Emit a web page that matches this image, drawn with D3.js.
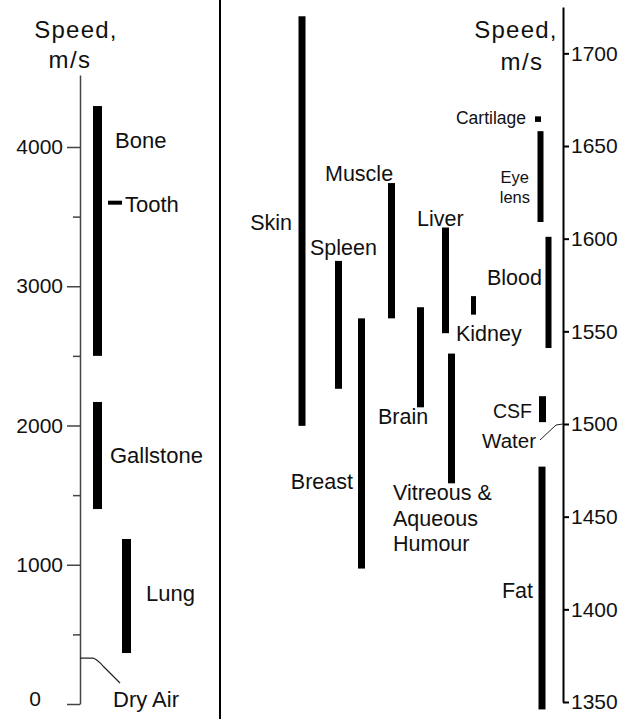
<!DOCTYPE html>
<html>
<head>
<meta charset="utf-8">
<script src="https://cdn.jsdelivr.net/npm/d3@7"></script>
<style>
  html, body { margin: 0; padding: 0; background: #fff; }
  svg { display: block; font-family: "Liberation Sans", Arial, sans-serif; }
  text { fill: #111; }
</style>
</head>
<body>
<svg id="chart" width="626" height="719"></svg>
<script>
// Speed of sound in hard tissues (m/s), left panel
const hardTissues = ["Bone", "Tooth", "Gallstone", "Lung"];
const hardLow  = [2500, 3600, 1400, 366];
const hardHigh = [4294, 3600, 2169, 1185];
const dryAirSpeed = 330;

// Speed of sound in soft tissues (m/s), right panel
const softTissues = ["Skin", "Spleen", "Breast", "Muscle", "Brain", "Liver",
  "Vitreous & Aqueous Humour", "Kidney", "Cartilage", "Eye lens", "Blood", "CSF", "Fat"];
const softLow  = [1499, 1519, 1422, 1557, 1509, 1549, 1468, 1559, 1663, 1609, 1541, 1501, 1346];
const softHigh = [1720, 1588, 1557, 1630, 1563, 1606, 1538, 1569, 1666, 1658, 1601, 1515, 1477];
const waterSpeed = 1500;

// Tick labels
const leftMajorTicks = [0, 1000, 2000, 3000, 4000];
const leftMinorTicks = [500, 1500, 2500, 3500];
const rightTicks = [1350, 1400, 1450, 1500, 1550, 1600, 1650, 1700];

// Layout: bar column centres, widths, label anchors (lv = speed level the label sits at)
const hardLayout = {
  "Bone":      { x: 97.5,  w: 9,  label: [{ t: "Bone", x: 115, a: "start" }], lv: 4050 },
  "Tooth":     { x: 115,   w: 14, label: [{ t: "Tooth", x: 125, a: "start" }], lv: 3585 },
  "Gallstone": { x: 97.5,  w: 9,  label: [{ t: "Gallstone", x: 110, a: "start" }], lv: 1788 },
  "Lung":      { x: 126.5, w: 9,  label: [{ t: "Lung", x: 146, a: "start" }], lv: 797 }
};
const softLayout = {
  "Skin":   { x: 302,   w: 7, fs: 21.5, label: [{ t: "Skin", x: 292, a: "end" }], lv: 1609 },
  "Spleen": { x: 338.5, w: 7, fs: 21.5, label: [{ t: "Spleen", x: 310, a: "start" }], lv: 1595 },
  "Breast": { x: 361.5, w: 7, fs: 21.5, label: [{ t: "Breast", x: 353, a: "end" }], lv: 1469 },
  "Muscle": { x: 391.5, w: 7, fs: 21.5, label: [{ t: "Muscle", x: 325, a: "start" }], lv: 1635 },
  "Brain":  { x: 420.5, w: 7, fs: 21.5, label: [{ t: "Brain", x: 378, a: "start" }], lv: 1504 },
  "Liver":  { x: 445.5, w: 7, fs: 21.5, label: [{ t: "Liver", x: 417, a: "start" }], lv: 1611 },
  "Vitreous & Aqueous Humour": { x: 451.5, w: 7, fs: 21.5,
     label: [{ t: "Vitreous &", x: 393, a: "start" }, { t: "Aqueous", x: 393, a: "start" }, { t: "Humour", x: 393, a: "start" }],
     lv: 1463, lh: 25.5 },
  "Kidney": { x: 473.5, w: 5, fs: 21.5, label: [{ t: "Kidney", x: 456, a: "start" }], lv: 1549 },
  "Cartilage": { x: 538, w: 6, fs: 17.5, label: [{ t: "Cartilage", x: 526, a: "end" }], lv: 1665 },
  "Eye lens": { x: 540.5, w: 6, fs: 16.5, label: [{ t: "Eye", x: 529, a: "end" }, { t: "lens", x: 530, a: "end" }], lv: 1633, lh: 19.5 },
  "Blood":  { x: 548.5, w: 6, fs: 21.5, label: [{ t: "Blood", x: 542, a: "end" }], lv: 1579 },
  "CSF":    { x: 542.5, w: 7, fs: 19.5, label: [{ t: "CSF", x: 532, a: "end" }], lv: 1507 },
  "Fat":    { x: 542,   w: 7, fs: 21.5, label: [{ t: "Fat", x: 533, a: "end" }], lv: 1410 }
};

const svg = d3.select("#chart");

// Scales
const yHard = d3.scaleLinear().domain([0, 4517]).range([704, 75]);
const ySoft = d3.scaleLinear().domain([1350, 1725]).range([702, 7]);

// Panel divider
svg.append("line")
  .attr("x1", 220).attr("x2", 220).attr("y1", 0).attr("y2", 719)
  .attr("stroke", "#000").attr("stroke-width", 2);

// Left axis
const leftAxisG = svg.append("g").attr("transform", "translate(80,0)");
leftAxisG.call(d3.axisLeft(yHard).tickValues(leftMajorTicks).tickFormat(d3.format("d"))
  .tickSize(13).tickSizeOuter(0).tickPadding(4));
leftAxisG.append("g").call(d3.axisLeft(yHard).tickValues(leftMinorTicks).tickSize(7).tickSizeOuter(0).tickFormat(""))
  .select(".domain").remove();
leftAxisG.selectAll("path, line").attr("stroke", "#444").attr("stroke-width", 1.5);
leftAxisG.selectAll("text").attr("font-size", 21).attr("fill", "#111")
  .attr("font-family", "'Liberation Sans', Arial, sans-serif");
// the zero label sits apart from the others, slightly above its tick
leftAxisG.selectAll(".tick").filter(d => d === 0).select("text").attr("x", -39).attr("y", -5);

// Right axis
const rightAxisG = svg.append("g").attr("transform", "translate(563,0)");
rightAxisG.call(d3.axisRight(ySoft).tickValues(rightTicks).tickFormat(d3.format("d"))
  .tickSize(6).tickSizeOuter(0).tickPadding(2));
rightAxisG.selectAll("path, line").attr("stroke", "#000").attr("stroke-width", 2);
rightAxisG.selectAll("text").attr("font-size", 21).attr("fill", "#111")
  .attr("font-family", "'Liberation Sans', Arial, sans-serif");

// Axis titles
function title(cx1, cx2, y1, y2) {
  svg.append("text").attr("x", cx1).attr("y", y1).attr("text-anchor", "middle")
    .attr("font-size", 24).attr("letter-spacing", 1.2).text("Speed,");
  svg.append("text").attr("x", cx2).attr("y", y2).attr("text-anchor", "middle")
    .attr("font-size", 24).attr("letter-spacing", 1.5).text("m/s");
}
title(76, 70, 38, 68);
title(516, 522, 38, 70);

// Hard tissue bars
hardTissues.forEach((name, i) => {
  const L = hardLayout[name];
  if (hardLow[i] === hardHigh[i]) {
    // single value: short horizontal dash
    svg.append("rect")
      .attr("x", L.x - L.w / 2).attr("width", L.w)
      .attr("y", yHard(hardLow[i]) - 2).attr("height", 4).attr("fill", "#000");
  } else {
    svg.append("rect")
      .attr("x", L.x - L.w / 2).attr("width", L.w)
      .attr("y", yHard(hardHigh[i])).attr("height", yHard(hardLow[i]) - yHard(hardHigh[i]))
      .attr("fill", "#000");
  }
  L.label.forEach(lb => {
    svg.append("text").attr("x", lb.x).attr("y", yHard(L.lv)).attr("dy", "0.35em")
      .attr("text-anchor", lb.a).attr("font-size", 22).text(lb.t);
  });
});

// Dry air marker with leader
const yAir = yHard(dryAirSpeed);
svg.append("path")
  .attr("d", `M80,${yAir} L93,${yAir} Q98,${yAir + 2} 104,${yAir + 9} L120,${yAir + 25}`)
  .attr("fill", "none").attr("stroke", "#222").attr("stroke-width", 1.2);
svg.append("text").attr("x", 113).attr("y", 699).attr("dy", "0.35em")
  .attr("font-size", 22).text("Dry Air");

// Soft tissue bars
softTissues.forEach((name, i) => {
  const L = softLayout[name];
  svg.append("rect")
    .attr("x", L.x - L.w / 2).attr("width", L.w)
    .attr("y", ySoft(softHigh[i])).attr("height", ySoft(softLow[i]) - ySoft(softHigh[i]))
    .attr("fill", "#000");
  const lh = L.lh || 0;
  L.label.forEach((lb, j) => {
    svg.append("text").attr("x", lb.x).attr("y", ySoft(L.lv) + j * lh).attr("dy", "0.35em")
      .attr("text-anchor", lb.a).attr("font-size", L.fs).text(lb.t);
  });
});

// Water marker with leader
const yWater = ySoft(waterSpeed);
svg.append("path")
  .attr("d", `M563,${yWater} L556,${yWater + 1} L540,${yWater + 16}`)
  .attr("fill", "none").attr("stroke", "#222").attr("stroke-width", 1);
svg.append("text").attr("x", 536).attr("y", yWater + 17).attr("dy", "0.35em")
  .attr("text-anchor", "end").attr("font-size", 20.5).text("Water");
</script>
</body>
</html>
